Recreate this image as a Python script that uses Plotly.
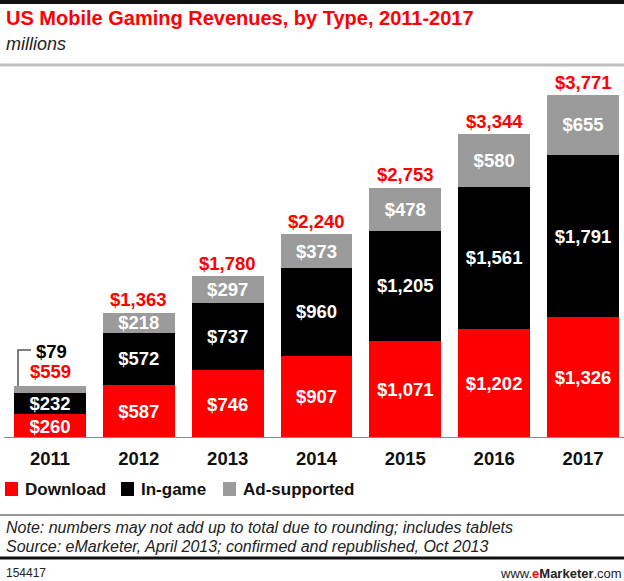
import plotly.graph_objects as go

years = ["2011", "2012", "2013", "2014", "2015", "2016", "2017"]
download = [260, 587, 746, 907, 1071, 1202, 1326]
in_game = [232, 572, 737, 960, 1205, 1561, 1791]
ad_supported = [79, 218, 297, 373, 478, 580, 655]
totals = [559, 1363, 1780, 2240, 2753, 3344, 3771]

RED = "#ff0000"
BLACK = "#000000"
GRAY = "#9b9b9b"
FONT = "Liberation Sans"
NUM = 18.5

W, H = 624, 581
T, B = 70, 143
PH = H - T - B  # plot height in px
BASE = H - B    # baseline pixel


def py(p):
    """pixel y -> paper y"""
    return (BASE - p) / PH


def px(p):
    return p / W


xs = list(range(len(years)))


def fmt(v):
    return "$" + format(v, ",")


fig = go.Figure()
series = [("Download", download, RED), ("In-game", in_game, BLACK), ("Ad-supported", ad_supported, GRAY)]
for name, vals, col in series:
    texts = []
    for i, v in enumerate(vals):
        if name == "Ad-supported" and i == 0:
            texts.append("")
        else:
            texts.append("<b>" + fmt(v) + "</b>")
    fig.add_trace(go.Bar(
        x=xs, y=vals, name=name, marker=dict(color=col, line=dict(width=0)),
        width=0.81, text=texts, textposition="inside", insidetextanchor="middle",
        textangle=0, constraintext="none",
        textfont=dict(family=FONT, size=NUM, color="white"),
        showlegend=False, hoverinfo="skip",
    ))

stack_tops = [d + g + a for d, g, a in zip(download, in_game, ad_supported)]
annotations = []
for i, (top, tot) in enumerate(zip(stack_tops, totals)):
    annotations.append(dict(
        x=i, y=top, xref="x", yref="y", text="<b>" + fmt(tot) + "</b>",
        showarrow=False, yanchor="middle", yshift=15 if i == 0 else 13,
        font=dict(family=FONT, size=NUM, color=RED)))

# 2011 ad-supported callout
annotations.append(dict(
    x=0, y=stack_tops[0], xref="x", yref="y", text="<b>" + fmt(ad_supported[0]) + "</b>",
    showarrow=False, yanchor="middle", yshift=35, xshift=1,
    font=dict(family=FONT, size=NUM, color=BLACK)))

shapes = []
shapes.append(dict(type="path", xref="x", yref="y", xsizemode="pixel", ysizemode="pixel",
                   xanchor=0, yanchor=stack_tops[0],
                   path="M -32,0 L -32,36 L -19,36",
                   line=dict(color="#555555", width=1.5)))

# baseline
shapes.append(dict(type="line", xref="paper", yref="y", x0=px(4), x1=1, y0=0, y1=0,
                   line=dict(color="#888888", width=2)))
# decorative rules
shapes.append(dict(type="line", xref="paper", yref="paper", x0=0, x1=1, y0=py(2), y1=py(2),
                   line=dict(color="#111111", width=4)))
shapes.append(dict(type="line", xref="paper", yref="paper", x0=0, x1=1, y0=py(65), y1=py(65),
                   line=dict(color="#c0c0c0", width=3)))
shapes.append(dict(type="line", xref="paper", yref="paper", x0=0, x1=1, y0=py(515), y1=py(515),
                   line=dict(color="#999999", width=2)))
shapes.append(dict(type="line", xref="paper", yref="paper", x0=0, x1=1, y0=py(558), y1=py(558),
                   line=dict(color="#111111", width=3)))

# manual legend
legend_items = [("Download", RED, 5), ("In-game", BLACK, 121), ("Ad-supported", GRAY, 223)]
for name, col, lx in legend_items:
    shapes.append(dict(type="rect", xref="paper", yref="paper",
                       x0=px(lx), x1=px(lx + 13), y0=py(496), y1=py(482),
                       fillcolor=col, line=dict(width=0)))
    annotations.append(dict(x=px(lx + 18), y=py(489), xref="paper", yref="paper",
                            text="<b>" + name + "</b>", showarrow=False,
                            xanchor="left", yanchor="middle",
                            font=dict(family=FONT, size=17, color="#111111")))

# title & subtitle
annotations.append(dict(x=px(4), y=py(18), xref="paper", yref="paper",
                        text="<b>US Mobile Gaming Revenues, by Type, 2011-2017</b>",
                        showarrow=False, xanchor="left", yanchor="middle",
                        font=dict(family=FONT, size=20, color=RED)))
annotations.append(dict(x=px(4), y=py(44), xref="paper", yref="paper",
                        text="<i>millions</i>", showarrow=False, xanchor="left", yanchor="middle",
                        font=dict(family=FONT, size=18, color="#222222")))
# notes
annotations.append(dict(x=px(4), y=py(527), xref="paper", yref="paper",
                        text="<i>Note: numbers may not add up to total due to rounding; includes tablets</i>",
                        showarrow=False, xanchor="left", yanchor="middle",
                        font=dict(family=FONT, size=16, color="#222222")))
annotations.append(dict(x=px(4), y=py(546), xref="paper", yref="paper",
                        text="<i>Source: eMarketer, April 2013; confirmed and republished, Oct 2013</i>",
                        showarrow=False, xanchor="left", yanchor="middle",
                        font=dict(family=FONT, size=16, color="#222222")))
annotations.append(dict(x=px(4), y=py(573), xref="paper", yref="paper",
                        text="154417", showarrow=False, xanchor="left", yanchor="middle",
                        font=dict(family=FONT, size=12, color="#222222")))
annotations.append(dict(x=1, y=py(573), xref="paper", yref="paper",
                        text="www.<span style='color:#ff0000'><b>e</b></span><b>Marketer</b>.com",
                        showarrow=False, xanchor="right", yanchor="middle",
                        font=dict(family=FONT, size=13, color="#222222")))

ppu = 88.83
fig.update_layout(
    barmode="stack", width=W, height=H,
    margin=dict(l=0, r=0, t=T, b=B),
    paper_bgcolor="white", plot_bgcolor="white",
    xaxis=dict(tickmode="array", tickvals=xs, ticktext=["<b>" + y + "</b>" for y in years],
               range=[-50 / ppu, 6 + 41 / ppu], showgrid=False, zeroline=False, showline=False,
               ticks="outside", ticklen=4, tickcolor="rgba(0,0,0,0)",
               tickfont=dict(family=FONT, size=NUM, color="#111111")),
    yaxis=dict(range=[0, 4048], visible=False, showgrid=False, zeroline=False),
    shapes=shapes, annotations=annotations,
)
fig.write_html("out.html", config={"displayModeBar": False},
               post_script="document.body.style.margin='0px';document.body.style.overflow='hidden';")
